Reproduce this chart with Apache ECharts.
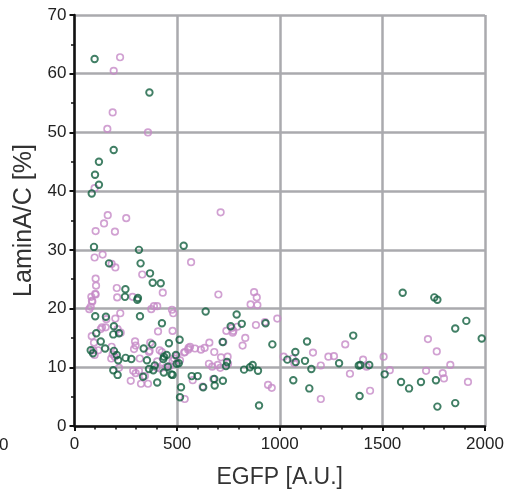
<!DOCTYPE html>
<html>
<head>
<meta charset="utf-8">
<script src="https://cdn.jsdelivr.net/npm/echarts@6/dist/echarts.min.js"></script>
<style>
  html, body { margin: 0; padding: 0; background: #fff; }
  #chart { width: 513px; height: 494px; }
</style>
</head>
<body>
<div id="chart"></div>
<script>
// [EGFP, LaminA/C] for each cell
const greenCells = [
  [98, 62.5], [365, 56.8], [191, 47.0], [119, 45.0], [100, 42.8], [119, 41.1], [84, 39.6],
  [95, 30.5], [314, 30.0], [532, 30.7], [168, 27.7], [322, 27.7], [368, 26.0], [381, 24.4],
  [420, 24.3], [248, 23.3], [246, 22.0], [309, 21.8], [306, 21.5], [101, 18.7], [319, 18.7],
  [426, 17.5], [512, 14.7], [639, 19.5], [790, 19.0], [761, 17.0], [815, 17.4], [931, 17.5],
  [722, 14.3], [964, 13.9], [1133, 14.4], [1358, 15.4], [1076, 12.6], [1037, 11.3], [1078, 10.9],
  [1123, 11.1], [1154, 9.7], [1289, 10.7], [1385, 10.3], [1066, 7.8], [1144, 6.4], [899, 3.5],
  [826, 9.6], [855, 10.0], [868, 10.4], [894, 9.4], [738, 10.2], [743, 10.9], [571, 8.5],
  [600, 8.5], [681, 8.0], [723, 7.7], [683, 6.9], [627, 6.6], [519, 6.6], [514, 4.9],
  [1599, 22.7], [1753, 21.9], [1768, 21.5], [1909, 17.9], [1855, 16.6], [1984, 14.9],
  [1393, 10.4], [1436, 10.4], [1511, 8.8], [1389, 5.1], [1591, 7.5], [1630, 6.4], [1688, 7.5],
  [1761, 7.8], [1768, 3.3], [1855, 3.9], [153, 18.6], [192, 17.0], [189, 15.6], [217, 15.8],
  [106, 15.8], [128, 14.4], [79, 12.9], [149, 13.2], [90, 12.4], [192, 12.8], [206, 12.1],
  [213, 11.2], [249, 11.6], [277, 11.4], [337, 13.2], [379, 13.9], [353, 11.2], [460, 14.1],
  [433, 11.4], [449, 12.1], [436, 11.8], [494, 12.1], [498, 10.6], [508, 10.7], [478, 8.7],
  [391, 10.3], [384, 9.5], [363, 9.7], [435, 9.1], [472, 8.8], [455, 10.1], [189, 9.5],
  [210, 8.7], [334, 8.4], [403, 7.4]
];
const purpleCells = [
  [222, 62.8], [191, 60.5], [186, 53.4], [160, 50.6], [358, 50.0], [98, 40.5], [162, 35.9],
  [144, 34.5], [252, 35.4], [103, 33.2], [197, 33.1], [137, 29.2], [98, 28.7], [181, 27.6],
  [199, 27.0], [568, 27.9], [330, 25.8], [103, 25.1], [105, 23.9], [430, 22.7], [206, 23.5],
  [103, 22.4], [82, 22.0], [208, 21.9], [283, 22.0], [85, 21.3], [72, 19.9], [374, 19.9],
  [403, 20.4], [475, 19.8], [481, 19.2], [407, 16.1], [478, 16.2], [712, 36.4], [701, 22.4],
  [875, 22.8], [888, 21.9], [858, 20.7], [891, 20.6], [988, 18.3], [740, 16.2], [774, 16.2],
  [793, 16.9], [884, 17.2], [928, 17.7], [832, 15.0], [819, 13.7], [725, 14.3], [1319, 13.9],
  [1162, 12.5], [1019, 11.8], [1063, 11.5], [1071, 10.7], [1200, 10.3], [1237, 11.8],
  [1264, 11.9], [1342, 8.9], [1200, 4.6], [943, 7.0], [961, 6.5], [710, 9.9], [746, 11.8],
  [714, 11.7], [616, 13.0], [634, 13.3], [657, 14.2], [681, 12.6], [538, 12.6], [554, 13.0],
  [563, 13.5], [655, 10.6], [671, 10.1], [698, 10.4], [576, 7.8], [676, 8.0], [624, 6.7],
  [537, 4.6], [514, 11.2], [1722, 14.8], [1765, 12.7], [1406, 11.3], [1423, 10.1], [1506, 11.8],
  [1536, 9.5], [1440, 6.0], [1713, 9.4], [1794, 9.0], [1800, 8.1], [1831, 10.4], [1917, 7.5],
  [79, 20.3], [387, 20.4], [223, 19.2], [155, 18.2], [199, 18.3], [134, 16.8], [152, 16.8],
  [128, 16.5], [210, 16.5], [225, 15.9], [84, 15.3], [95, 14.2], [92, 12.9], [116, 12.9],
  [98, 12.1], [181, 13.5], [186, 12.2], [196, 11.8], [179, 11.5], [295, 14.4], [298, 13.7],
  [290, 13.1], [369, 14.2], [366, 12.8], [363, 12.6], [415, 12.9], [426, 12.6], [403, 11.0],
  [446, 10.0], [464, 10.2], [478, 11.1], [485, 11.5], [498, 11.9], [534, 12.5], [556, 13.3],
  [400, 9.9], [417, 9.8], [217, 9.9], [286, 9.4], [314, 9.4], [298, 9.0], [274, 7.7],
  [324, 7.2], [358, 7.2], [343, 8.5], [318, 11.5], [101, 22.5], [87, 21.2], [766, 16.7],
  [771, 15.9], [748, 10.6], [587, 13.2]
];

const chart = echarts.init(document.getElementById('chart'));
const font = 'Liberation Sans, Arial, sans-serif';

const axisCommon = {
  type: 'value',
  nameLocation: 'middle',
  nameTextStyle: { fontSize: 23, color: '#333', fontFamily: font },
  axisLine: { show: true, onZero: false, lineStyle: { color: '#111', width: 2.5 } },
  axisTick: { show: true, inside: false, length: 5, lineStyle: { color: '#111', width: 2 } },
  minorTick: { show: true, length: 3.5, lineStyle: { color: '#111', width: 1.5 } },
  axisLabel: { fontSize: 17, color: '#222', fontFamily: font, formatter: (v) => String(v) },
  splitLine: { show: true, lineStyle: { color: '#aaaaae', width: 2.5 } },
};

chart.setOption({
  animation: false,
  backgroundColor: '#fff',
  grid: { left: 74.5, right: 28, top: 15, bottom: 68 },
  xAxis: Object.assign({}, axisCommon, {
    name: 'EGFP [A.U.]',
    nameGap: 40,
    min: 0, max: 2000, interval: 500,
    minorTick: Object.assign({}, axisCommon.minorTick, { splitNumber: 5 }),
    axisLabel: Object.assign({}, axisCommon.axisLabel, { margin: 10 }),
  }),
  yAxis: Object.assign({}, axisCommon, {
    name: 'LaminA/C [%]',
    nameGap: 29,
    nameTextStyle: Object.assign({}, axisCommon.nameTextStyle, { fontSize: 25 }),
    min: 0, max: 70, interval: 10,
    minorTick: Object.assign({}, axisCommon.minorTick, { splitNumber: 2 }),
    axisLabel: Object.assign({}, axisCommon.axisLabel, { margin: 8 }),
  }),
  graphic: [{
    type: 'text', left: -1, top: 437,
    style: { text: '0', fontSize: 17, fill: '#222', fontFamily: font }
  }],
  series: [
    {
      type: 'scatter',
      data: purpleCells,
      symbol: 'circle',
      symbolSize: 6.5,
      itemStyle: { color: 'rgba(0,0,0,0)', borderColor: '#c68ac7', borderWidth: 1.7 },
    },
    {
      type: 'scatter',
      data: greenCells,
      symbol: 'circle',
      symbolSize: 6.5,
      itemStyle: { color: 'rgba(0,0,0,0)', borderColor: '#125f3e', borderWidth: 1.9 },
    },
  ],
});
</script>
</body>
</html>
